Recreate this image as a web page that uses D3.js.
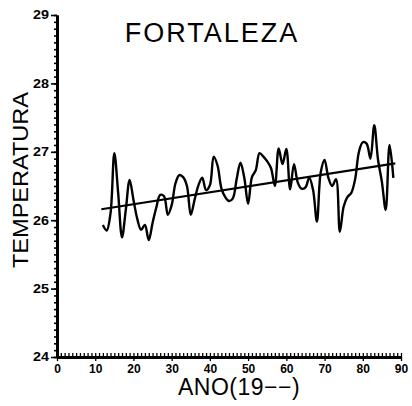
<!DOCTYPE html>
<html><head><meta charset="utf-8">
<script src="https://cdn.jsdelivr.net/npm/d3@7"></script>
<style>body{margin:0;background:#fff}svg{display:block}</style>
</head><body>
<svg id="c" width="412" height="406"></svg>
<script>
const years = [12,13,14,15,16,17,18,19,20,21,22,23,24,25,26,27,28,29,30,31,32,33,34,35,36,37,38,39,40,41,42,43,44,45,46,47,48,49,50,51,52,53,54,55,56,57,58,59,60,61,62,63,64,65,66,67,68,69,70,71,72,73,74,75,76,77,78,79,80,81,82,83,84,85,86,87,88];
const temps = [25.93,25.85,26.1,26.98,26.4,25.75,26.15,26.59,26.3,26.02,25.86,25.93,25.71,25.96,26.19,26.37,26.35,26.08,26.22,26.54,26.66,26.63,26.5,26.08,26.3,26.51,26.62,26.44,26.51,26.93,26.8,26.47,26.34,26.28,26.32,26.6,26.84,26.62,26.24,26.63,26.73,26.98,26.93,26.86,26.76,26.5,27.05,26.82,27.04,26.45,26.82,26.55,26.46,26.48,26.62,26.44,25.98,26.7,26.88,26.62,26.5,26.6,25.83,26.2,26.34,26.4,26.6,27.0,27.14,27.12,26.9,27.39,26.88,26.56,26.15,27.1,26.62];
const trendYears = [11.6, 88.5];
const trendTemps = [26.16, 26.83];
const xTicks = [0,10,20,30,40,50,60,70,80,90];
const yTicks = [24,25,26,27,28,29];
const titleText = "FORTALEZA";
const xLabel = "ANO(19−−)";
const yLabel = "TEMPERATURA";

const svg = d3.select("#c");
const x = d3.scaleLinear().domain([0, 90]).range([57, 401]);
const y = d3.scaleLinear().domain([24, 29]).range([357, 15]);

// Y axis
const gy = svg.append("g").attr("transform", "translate(57,0)");
gy.call(d3.axisLeft(y).tickValues(d3.range(240, 291, 1).map(v => v / 10)).tickSize(3).tickSizeOuter(0).tickFormat(""));
gy.append("g").call(d3.axisLeft(y).tickValues(yTicks).tickSize(6).tickSizeOuter(0).tickPadding(2).tickFormat(d3.format("d")));
gy.selectAll("path.domain").attr("stroke", "#000").attr("stroke-width", 3);
gy.selectAll("line").attr("stroke", "#000").attr("stroke-width", 1.6);
gy.selectAll("text").attr("fill", "#000").attr("font-family", "Liberation Sans, Arial, sans-serif")
  .attr("font-size", 12).attr("font-weight", "bold")
  .attr("textLength", 16).attr("lengthAdjust", "spacingAndGlyphs");

// X axis
const gx = svg.append("g").attr("transform", "translate(0,357)");
gx.call(d3.axisTop(x).tickValues(d3.range(0, 91, 1)).tickSize(4).tickSizeOuter(0).tickFormat(""));
gx.append("g").call(d3.axisBottom(x).tickValues(xTicks).tickSize(4).tickSizeOuter(0).tickPadding(3).tickFormat(d3.format("d")));
gx.selectAll("path.domain").attr("stroke", "#000").attr("stroke-width", 3);
gx.selectAll("line").attr("stroke", "#000").attr("stroke-width", 1.3);
gx.selectAll("text").attr("fill", "#000").attr("font-family", "Liberation Sans, Arial, sans-serif")
  .attr("font-size", 12).attr("font-weight", "bold");

// Data line
const pts = years.map((yr, i) => [yr, temps[i]]);
svg.append("path")
  .datum(pts)
  .attr("fill", "none").attr("stroke", "#000").attr("stroke-width", 2.4)
  .attr("stroke-linejoin", "round")
  .attr("d", d3.line().x(d => x(d[0])).y(d => y(d[1])).curve(d3.curveCatmullRom.alpha(0.5)));

// Trend line
svg.append("path")
  .datum(trendYears.map((yr, i) => [yr, trendTemps[i]]))
  .attr("fill", "none").attr("stroke", "#000").attr("stroke-width", 2.2)
  .attr("d", d3.line().x(d => x(d[0])).y(d => y(d[1])));

// Title
svg.append("text").attr("x", 212).attr("y", 42).attr("text-anchor", "middle")
  .attr("font-family", "Liberation Sans, Arial, sans-serif").attr("font-size", 27)
  .attr("letter-spacing", 2).attr("fill", "#000").text(titleText);

// X label
svg.append("text").attr("x", 239).attr("y", 395).attr("text-anchor", "middle")
  .attr("font-family", "Liberation Sans, Arial, sans-serif").attr("font-size", 23)
  .attr("letter-spacing", 0.5).attr("fill", "#000").text(xLabel);

// Y label
svg.append("text").attr("transform", "translate(28,180) rotate(-90)").attr("text-anchor", "middle")
  .attr("font-family", "Liberation Sans, Arial, sans-serif").attr("font-size", 22)
  .attr("textLength", 176).attr("lengthAdjust", "spacingAndGlyphs")
  .attr("fill", "#000").text(yLabel);
</script>
</body></html>
